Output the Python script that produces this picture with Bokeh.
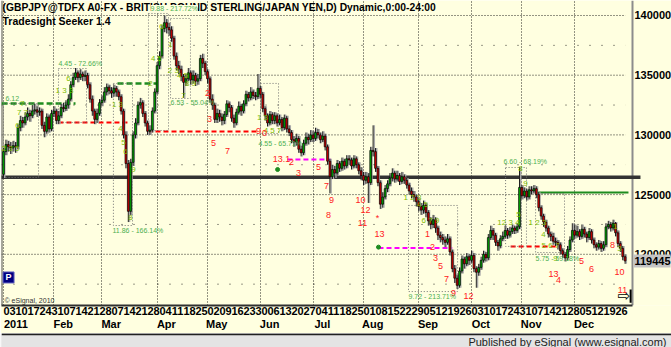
from bokeh.plotting import figure
from bokeh.models import ColumnDataSource, Range1d, LinearAxis, FixedTicker, Grid, Label
from bokeh.layouts import column
from bokeh.embed import file_html
from bokeh.resources import INLINE
from bokeh.core.properties import value

# ---------------- data (GBPJPY daily, 2011) ----------------
FIRST_OPEN = 126.7
CLOSE = [
    128.6, 129.2, 129.0, 128.9, 129.1, 129.0, 130.6, 131.2, 131.0, 131.5,
    131.8, 131.6, 132.0, 132.1, 131.9, 132.0, 130.8, 130.3, 131.5, 130.5,
    131.8, 132.0, 131.2, 131.6, 132.3, 132.2, 132.5, 133.0, 134.2, 134.8,
    135.2, 134.8, 135.1, 134.9, 135.0, 134.2, 133.0, 132.0, 131.3, 131.8,
    132.7, 132.9, 133.6, 134.0, 133.7, 133.5, 133.9, 133.6, 133.2, 132.0,
    130.0, 127.6, 123.6, 127.7, 130.0, 131.0, 132.5, 132.7, 131.8, 131.0,
    130.3, 130.4, 132.0, 133.6, 135.8, 136.6, 138.9, 139.4, 139.0, 138.8,
    138.1, 136.6, 135.8, 135.5, 134.9, 134.4, 134.7, 135.2, 134.6, 135.0,
    134.5, 134.7, 136.4, 136.0, 135.3, 134.7, 133.0, 132.5, 131.3, 131.8,
    131.5, 131.2, 131.7, 132.6, 132.3, 131.4, 131.0, 131.9, 132.4, 132.0,
    132.6, 133.4, 133.1, 133.6, 133.3, 133.2, 133.9, 133.4, 132.2, 131.6,
    131.0, 131.7, 131.2, 131.6, 131.0, 131.3, 130.6, 131.4, 130.5, 130.2,
    129.6, 129.4, 129.7, 128.8, 128.5, 129.3, 129.8, 129.6, 130.0, 129.7,
    130.2, 130.0, 129.6, 129.9, 129.0, 127.8, 126.5, 127.1, 126.8, 127.6,
    127.2, 127.8, 127.4, 128.0, 127.9, 127.4, 128.0, 127.5, 127.0, 126.6,
    126.2, 126.5, 126.0, 128.7, 128.6, 127.2, 126.0, 124.2, 124.8, 125.5,
    125.9, 126.4, 126.8, 126.3, 126.6, 126.1, 126.5, 126.2, 125.8, 125.3,
    125.0, 124.8, 124.4, 124.0, 123.7, 124.1, 123.5, 122.8, 122.5, 122.9,
    122.2, 121.6, 121.4, 121.2, 121.0, 121.3, 120.2, 118.8, 118.0, 117.4,
    118.6, 119.6, 119.2, 119.8, 119.5, 119.9, 118.8, 118.5, 118.9, 119.5,
    120.0, 119.7, 121.4, 122.0, 121.6, 121.0, 120.7, 121.3, 121.5, 122.0,
    121.6, 121.9, 122.2, 122.0, 122.3, 125.6, 124.9, 125.3, 124.8, 125.4,
    125.3, 125.5, 125.0, 123.9, 123.2, 122.7, 122.2, 121.7, 121.5, 121.1,
    121.0, 120.8, 120.3, 120.0, 119.7, 120.4, 121.2, 122.0, 121.6, 121.9,
    121.5, 122.1, 121.7, 121.4, 121.9, 121.2, 120.8, 120.6, 120.9, 120.5,
    120.8, 122.3, 122.5, 122.2, 122.6, 121.8, 120.9, 120.5, 119.8, 119.445,
]
HIGH = [
    128.9, 129.6, 129.5, 129.4, 129.5, 129.4, 130.9, 131.6, 131.5, 131.9,
    132.3, 132.1, 132.5, 132.6, 132.4, 132.3, 132.2, 131.1, 131.8, 131.7,
    132.1, 132.4, 132.2, 132.0, 132.6, 132.7, 132.9, 133.4, 134.5, 135.2,
    135.6, 135.4, 135.5, 135.3, 135.4, 135.2, 134.4, 133.3, 132.2, 132.2,
    133.0, 133.3, 134.0, 134.3, 134.2, 134.0, 134.2, 134.1, 133.8, 133.4,
    132.2, 130.3, 127.9, 128.0, 130.3, 131.4, 132.8, 133.1, 132.9, 132.0,
    131.2, 130.8, 132.3, 133.9, 136.1, 137.0, 139.2, 140.0, 139.7, 139.4,
    139.1, 138.3, 136.9, 136.2, 135.8, 135.1, 135.1, 135.6, 135.4, 135.4,
    135.2, 135.1, 136.7, 136.8, 136.2, 135.5, 134.9, 133.4, 132.7, 132.2,
    132.1, 131.8, 132.0, 132.9, 132.8, 132.5, 131.7, 132.2, 132.8, 132.6,
    132.9, 133.7, 133.6, 134.0, 133.8, 133.6, 135.1, 134.1, 133.6, 132.4,
    131.8, 132.0, 131.9, 131.9, 131.8, 131.7, 131.5, 131.7, 131.6, 130.8,
    130.4, 129.9, 130.1, 129.9, 129.1, 129.6, 130.2, 130.1, 130.4, 130.3,
    130.6, 130.5, 130.2, 130.3, 130.1, 129.2, 128.0, 127.5, 127.4, 127.9,
    127.8, 128.1, 128.0, 128.3, 128.3, 128.1, 128.3, 128.2, 127.7, 127.3,
    126.9, 126.9, 126.8, 129.0, 130.8, 128.9, 127.4, 126.2, 125.2, 125.8,
    126.2, 126.8, 127.2, 127.0, 127.0, 126.8, 126.9, 126.7, 126.4, 126.0,
    125.6, 125.3, 125.0, 124.7, 124.3, 124.5, 124.3, 123.7, 123.1, 123.3,
    123.1, 122.4, 121.9, 121.7, 121.5, 121.7, 121.5, 120.4, 119.1, 118.3,
    118.9, 119.9, 119.8, 120.1, 120.0, 120.3, 120.1, 119.0, 119.2, 119.8,
    120.3, 120.2, 121.7, 122.4, 122.2, 121.8, 121.2, 121.6, 121.9, 122.4,
    122.2, 122.3, 122.5, 122.4, 122.6, 127.3, 125.8, 125.6, 125.5, 125.7,
    125.7, 125.8, 125.7, 125.2, 124.1, 123.4, 122.9, 122.4, 121.9, 121.8,
    121.4, 121.2, 121.0, 120.5, 120.2, 120.7, 121.5, 122.6, 122.5, 122.4,
    122.1, 122.5, 122.3, 121.9, 122.2, 122.1, 121.4, 121.0, 121.2, 121.1,
    121.1, 122.6, 122.8, 122.7, 122.9, 122.7, 122.0, 121.1, 120.7, 120.0,
]
LOW = [
    126.4, 128.3, 128.6, 128.4, 128.6, 128.5, 128.8, 130.3, 130.6, 130.8,
    131.2, 131.1, 131.4, 131.7, 131.5, 131.6, 130.5, 129.8, 130.1, 130.2,
    130.3, 131.5, 130.9, 130.9, 131.4, 131.9, 132.0, 132.2, 132.8, 134.0,
    134.6, 134.4, 134.6, 134.5, 134.5, 133.9, 132.7, 131.6, 130.9, 131.0,
    131.6, 132.4, 132.7, 133.3, 133.4, 133.1, 133.2, 133.2, 132.9, 131.7,
    129.7, 127.2, 122.7, 123.3, 127.4, 129.7, 130.8, 132.2, 131.5, 130.7,
    130.0, 130.0, 130.2, 131.8, 133.4, 135.5, 136.4, 138.6, 138.5, 138.3,
    137.8, 136.3, 135.4, 135.1, 134.5, 133.1, 134.1, 134.5, 134.2, 134.3,
    134.1, 134.2, 134.5, 135.6, 135.0, 134.3, 132.7, 132.1, 131.0, 131.0,
    131.1, 130.8, 130.9, 131.5, 131.9, 131.1, 130.6, 130.8, 131.7, 131.6,
    131.8, 132.4, 132.8, 132.9, 133.0, 132.9, 133.0, 133.1, 131.9, 131.2,
    130.7, 130.8, 130.9, 130.9, 130.7, 130.8, 130.3, 130.4, 130.2, 129.9,
    129.3, 129.0, 129.1, 128.5, 128.2, 128.3, 129.1, 129.2, 129.4, 129.4,
    129.5, 129.7, 129.3, 129.4, 128.7, 127.5, 125.1, 126.3, 126.4, 126.6,
    126.9, 127.0, 127.1, 127.2, 127.5, 127.1, 127.2, 127.2, 126.7, 126.2,
    125.8, 125.9, 124.3, 125.8, 128.2, 126.9, 125.7, 123.8, 123.9, 124.6,
    125.2, 125.7, 126.1, 126.0, 126.1, 125.8, 125.9, 125.9, 125.5, 125.0,
    124.7, 124.4, 124.0, 123.6, 123.3, 123.4, 123.1, 122.4, 122.1, 122.2,
    121.8, 121.2, 121.0, 120.8, 120.6, 120.8, 119.9, 118.5, 117.6, 117.1,
    117.2, 118.4, 118.8, 119.0, 119.1, 119.3, 118.5, 117.2, 118.2, 118.7,
    119.3, 119.4, 119.5, 121.2, 121.2, 120.7, 120.3, 120.5, 121.1, 121.3,
    121.3, 121.4, 121.7, 121.7, 121.8, 122.1, 124.6, 124.7, 124.5, 124.6,
    125.0, 125.1, 124.7, 123.6, 122.9, 122.3, 121.9, 121.4, 121.1, 120.8,
    120.7, 120.4, 120.0, 119.7, 119.4, 119.5, 120.2, 121.0, 121.3, 121.4,
    121.2, 121.3, 121.4, 121.0, 121.2, 120.9, 120.5, 120.3, 120.4, 120.2,
    120.3, 120.6, 122.1, 121.9, 122.0, 121.5, 120.6, 120.2, 119.5, 119.2,
]
LAST_PRICE = 119.445
LAST_LABEL = "119445"

DAY_LABELS = ["03", "10", "17", "24", "31", "07", "14", "21", "28", "07", "14", "21", "28",
              "04", "11", "18", "25", "02", "09", "16", "23", "30", "06", "13", "20", "27",
              "04", "11", "18", "25", "01", "08", "15", "22", "29", "05", "12", "19", "26",
              "03", "10", "17", "24", "31", "07", "14", "21", "28", "05", "12", "19", "26"]
MONTH_NAMES = ["2011", "Feb", "Mar", "Apr", "May", "Jun", "Jul", "Aug", "Sep", "Oct", "Nov", "Dec"]
MONTH_START = [0, 21, 41, 64, 85, 107, 129, 150, 173, 195, 216, 238]

Y_TICKS = [120, 125, 130, 135, 140]
Y_TICK_LABELS = ["120000", "125000", "130000", "135000", "140000"]
Y_MINOR = [117.5, 122.5, 127.5, 132.5, 137.5]

BLACK_LEVEL = 126.457
GREEN_DASH = [(-0.8, 30.0, 132.63), (47.5, 64.6, 134.31)]
RED_DASH = [(22.9, 51.7, 131.04), (60.0, 105.8, 130.29), (211.3, 232.1, 120.66)]
MAGENTA_DASH = [(118.3, 136.25, 127.94), (156.25, 187.0, 120.53)]
GREEN_SOLID = [(222.5, 260.4, 125.18)]

BOXES = [  # left, right, top, bottom
    (0.0, 14.6, 132.63, 126.43), (22.9, 34.6, 135.56, 131.04), (45.8, 53.75, 134.31, 122.41),
    (60.4, 68.75, 140.17, 130.37), (69.6, 77.9, 139.75, 133.05), (107.1, 114.6, 134.31, 130.12),
    (168.75, 189.2, 124.09, 116.88), (209.2, 217.9, 127.27, 120.66), (221.7, 233.75, 125.09, 120.15),
]
MEASURES = [
    ("6.12", 0.83, 133.05), ("4.45 - 72.66%", 22.9, 135.98), ("11.86 - 166.14%", 45.4, 121.99),
    ("6.53 - 55.04%", 69.6, 132.71), ("4.55 - 65.71%", 106.25, 129.28),
    ("9.72 - 213.71%", 168.75, 116.47), ("6.60 - 68.19%", 208.3, 127.77), ("5.75 - 59.18%", 221.7, 119.65),
]
TOP_MEASURE = ("9.88 - 217.72%", 61.25, 140.59)
RED_COUNTS = [
    ("2", 85.0, 133.55), ("3", 85.8, 131.37), ("5", 87.5, 129.36), ("7", 93.3, 128.69),
    ("9", 106.3, 130.29), ("0", 108.75, 130.12), ("13.1", 115.8, 128.02), ("2", 120.0, 127.77),
    ("3", 122.9, 126.85), ("5", 131.25, 127.27), ("7", 134.6, 125.76), ("9", 136.7, 124.51),
    ("8", 135.4, 123.33), ("10", 148.75, 124.51), ("12", 150.8, 123.75), ("11", 149.6, 122.58),
    ("13", 156.7, 121.66), ("*", 155.8, 123.0), ("1", 176.7, 121.66), ("2", 178.75, 120.57),
    ("3", 180.0, 119.65), ("5", 182.1, 118.98), ("7", 184.6, 117.97), ("9", 187.5, 116.72),
    ("12", 193.75, 116.47), ("13", 229.2, 118.31), ("4", 231.25, 117.81), ("5", 240.8, 119.40),
    ("6", 245.0, 118.81), ("8", 253.75, 120.74), ("10", 256.7, 118.48), ("11", 257.9, 117.05),
]
GREEN_COUNTS = [
    ("7", 7.9, 132.63), ("1 3 3", 25.4, 133.72), ("6", 27.1, 134.72), ("2 3 5", 2.9, 128.86),
    ("6", 5.8, 130.79), ("7 7", 7.9, 131.88), ("1 3", 47.5, 132.55), ("4", 48.75, 130.54),
    ("5", 50.0, 129.36), ("6", 50.8, 128.61), ("9", 54.2, 127.1), ("8", 52.9, 123.08),
    ("2", 61.25, 134.31), ("4 5", 63.75, 136.40), ("6", 65.8, 139.08), ("1", 69.6, 137.57),
    ("2 3", 70.8, 135.39), ("4 5", 74.6, 134.98), ("7", 75.0, 133.30), ("8 9", 77.9, 134.31),
    ("1 3", 107.9, 131.46), ("4 5 7", 112.1, 130.37), ("1 2 3", 170.4, 124.76), ("4 5", 174.6, 124.17),
    ("6 7 9", 177.9, 122.83), ("12 3 4", 210.4, 122.66), ("5", 214.6, 123.33), ("8", 215.4, 127.19),
    ("9", 217.5, 125.93), ("1 2 3", 222.5, 122.66), ("4", 225.0, 121.66), ("5 6 7", 227.9, 120.74),
    ("9", 230.0, 119.65), ("1", 255.0, 122.33), ("3", 256.7, 120.49),
]
DOTS = [(156.25, 120.6, "#1E8C1E"), (114.2, 127.1, "#1E8C1E")]

TITLE = "(GBPJPY@TDFX A0-FX - BRITISH POUND STERLING/JAPAN YEN,D) Dynamic,0:00-24:00"
SUBTITLE = "Tradesight Seeker 1.4"
FOOTER = "Published by eSignal (www.esignal.com)"
COPYRIGHT = "\u00a9 eSignal, 2010"

# ---------------- styling / layout ----------------
FONT = "Liberation Sans"
CREAM = "#FFFFE0"
UP = "#00B400"
DOWN = "#D80000"
X0, X_PRICE_END, X_AXIS_EDGE, X_LABEL, X_END = -0.833, 259.2, 262.08, 262.9, 278.33
Y0, Y1 = 115.712, 141.256

n = len(CLOSE)
OPEN = [FIRST_OPEN] + CLOSE[:-1]
xs = list(range(n))
src = ColumnDataSource(dict(
    x=xs, xg=[i + 0.5 for i in xs], h=HIGH, l=LOW,
    top=[max(o, c) for o, c in zip(OPEN, CLOSE)],
    bot=[min(o, c) for o, c in zip(OPEN, CLOSE)],
    color=[UP if c >= o else DOWN for o, c in zip(OPEN, CLOSE)],
))

p = figure(width=671, height=333, x_range=Range1d(X0, X_END), y_range=Range1d(Y0, Y1),
           output_backend="svg", toolbar_location=None, x_axis_location=None, y_axis_location=None,
           min_border_left=1, min_border_right=0, min_border_top=0, min_border_bottom=28)
p.background_fill_color = CREAM
p.border_fill_color = CREAM
p.outline_line_color = None
p.grid.visible = False

# horizontal grid (drawn as dotted segments stopping before the price scale)
p.segment(x0=[X0] * len(Y_TICKS), y0=Y_TICKS, x1=[X_PRICE_END] * len(Y_TICKS), y1=Y_TICKS,
          line_color="black", line_dash="1 2", line_alpha=0.85, line_width=1)
p.segment(x0=[X0] * len(Y_MINOR), y0=Y_MINOR, x1=[X_PRICE_END] * len(Y_MINOR), y1=Y_MINOR,
          line_color="black", line_dash="1 11", line_alpha=0.8, line_width=1)
p.add_layout(Grid(dimension=0, ticker=FixedTicker(ticks=MONTH_START), grid_line_color="black",
                  grid_line_dash="1 2", grid_line_alpha=0.85))

DAY_W = 2.4  # px per bar (used only to place left-aligned tick labels)
day_ticks = [5 * k + 6.0 / DAY_W for k in range(len(DAY_LABELS))]
month_ticks = [s + (3.1 * len(m)) / DAY_W for s, m in zip(MONTH_START, MONTH_NAMES)]

def bottom_axis(ticks, labels, line):
    ax = LinearAxis(ticker=FixedTicker(ticks=ticks), major_label_overrides=dict(zip(ticks, labels)),
                    major_tick_out=0, major_tick_in=0, minor_tick_out=0, minor_tick_in=0,
                    major_label_standoff=1 if line else 0,
                    major_label_text_font=FONT, major_label_text_font_style="bold",
                    major_label_text_font_size="11px", major_label_text_color="black")
    if line:
        ax.axis_line_color = "#303030"
        ax.axis_line_width = 2
        ax.bounds = (X0, X_AXIS_EDGE)
    else:
        ax.axis_line_color = None
    return ax

p.add_layout(bottom_axis(day_ticks, DAY_LABELS, True), "below")
p.add_layout(bottom_axis(month_ticks, MONTH_NAMES, False), "below")

# frame borders: left edge and the price-scale edge
p.segment(x0=[X0, X_AXIS_EDGE], y0=[Y0, Y0], x1=[X0, X_AXIS_EDGE], y1=[Y1, Y1],
          line_color=["#505050", "#8C8C8C"], line_width=[2, 2])

# level lines
p.segment(x0=[-1], y0=[BLACK_LEVEL], x1=[265.4], y1=[BLACK_LEVEL], line_color="#333333", line_width=3.5)

def seg(lst, color, dash, width):
    p.segment(x0=[a for a, b, c in lst], y0=[c for a, b, c in lst], x1=[b for a, b, c in lst],
              y1=[c for a, b, c in lst], line_color=color, line_dash=dash, line_width=width)

seg(GREEN_DASH, "#1E8C1E", "6 3", 2.5)
seg(RED_DASH, "#FF0000", "5 3", 2)
seg(MAGENTA_DASH, "#FF00FF", "5 3", 2)
seg(GREEN_SOLID, "#1E8C1E", "solid", 2)

p.quad(left=[b[0] for b in BOXES], right=[b[1] for b in BOXES], top=[b[2] for b in BOXES],
       bottom=[b[3] for b in BOXES], fill_color=None, line_color="#707070", line_dash="1 2", line_width=1)

# candles
p.segment(x0="xg", y0="l", x1="xg", y1="h", source=src, line_color="#A8A8A8", line_width=1.5)
p.segment(x0="x", y0="l", x1="x", y1="h", source=src, line_color="#202020", line_width=1)
p.vbar(x="x", width=0.75, top="top", bottom="bot", fill_color="color", line_color="black",
       line_width=0.7, source=src)

def texts(lst, color, size, align="center", style="normal"):
    p.text(x=[t[1] for t in lst], y=[t[2] for t in lst], text=[t[0] for t in lst],
           text_color=color, text_font=value(FONT), text_font_size=size, text_align=align,
           text_baseline="middle", text_font_style=style)

texts(GREEN_COUNTS, "#7DBB00", "8px")
texts(RED_COUNTS, "#FF2020", "9px")
texts(MEASURES, "#4CAF50", "7px", align="left")

p.scatter(x=[d[0] for d in DOTS], y=[d[1] for d in DOTS], color=[d[2] for d in DOTS], size=4)

# price scale labels
p.text(x=[X_LABEL] * len(Y_TICKS), y=Y_TICKS, text=Y_TICK_LABELS, text_font=value(FONT),
       text_font_size="11px", text_font_style="bold", text_color="black", text_baseline="middle")
p.rect(x=[270.2], y=[LAST_PRICE], width=37, height=13, width_units="screen", height_units="screen",
       fill_color="#C4C4C4", line_color=None)
p.text(x=[X_LABEL], y=[LAST_PRICE], text=[LAST_LABEL], text_font=value(FONT), text_font_size="11px",
       text_font_style="bold", text_color="black", text_baseline="middle")

# titles
p.text(x=[-0.4], y=[140.67], text=[TITLE], text_font=value(FONT), text_font_size="10.3px",
       text_font_style="bold", text_baseline="middle", text_color="black")
p.text(x=[-0.4], y=[139.58], text=[SUBTITLE], text_font=value(FONT), text_font_size="10.5px",
       text_font_style="bold", text_baseline="middle", text_color="black")
p.add_layout(Label(x=TOP_MEASURE[1], y=TOP_MEASURE[2], text=TOP_MEASURE[0], text_font=FONT,
                   text_font_size="7px", text_color="#4CAF50", text_baseline="middle",
                   background_fill_color=CREAM))

# P box, copyright, icon
p.rect(x=[2.1], y=[118.06], width=11, height=11, width_units="screen", height_units="screen",
       fill_color="#000080", line_color="#6060C0")
p.text(x=[2.1], y=[118.06], text=["P"], text_color="white", text_font=value(FONT), text_font_size="9px",
       text_font_style="bold", text_align="center", text_baseline="middle")
p.text(x=[0.42], y=[116.13], text=[COPYRIGHT], text_color="#333333", text_font=value(FONT),
       text_font_size="7px", text_baseline="middle")
p.text(x=[258.6], y=[116.47], text=["\u21e8"], text_color="black", text_font=value("DejaVu Sans"),
       text_font_size="15px", text_align="center", text_baseline="middle")
p.segment(x0=[261.3], y0=[115.95], x1=[261.3], y1=[117.05], line_color="black", line_width=2)

# footer strip
f = figure(width=671, height=14, x_range=Range1d(0, 671), y_range=Range1d(0, 14), output_backend="svg",
           toolbar_location=None, x_axis_location=None, y_axis_location=None, min_border=0)
f.background_fill_color = "#E4E4E4"
f.border_fill_color = "#E4E4E4"
f.outline_line_color = None
f.grid.visible = False
f.segment(x0=[0], y0=[13.2], x1=[671], y1=[13.2], line_color="#202020", line_width=2)
f.text(x=[666], y=[6.0], text=[FOOTER], text_align="right", text_baseline="middle",
       text_font=value(FONT), text_font_size="11px", text_color="#222222")

open("out.html", "w").write(file_html(column(p, f, spacing=0), INLINE))
